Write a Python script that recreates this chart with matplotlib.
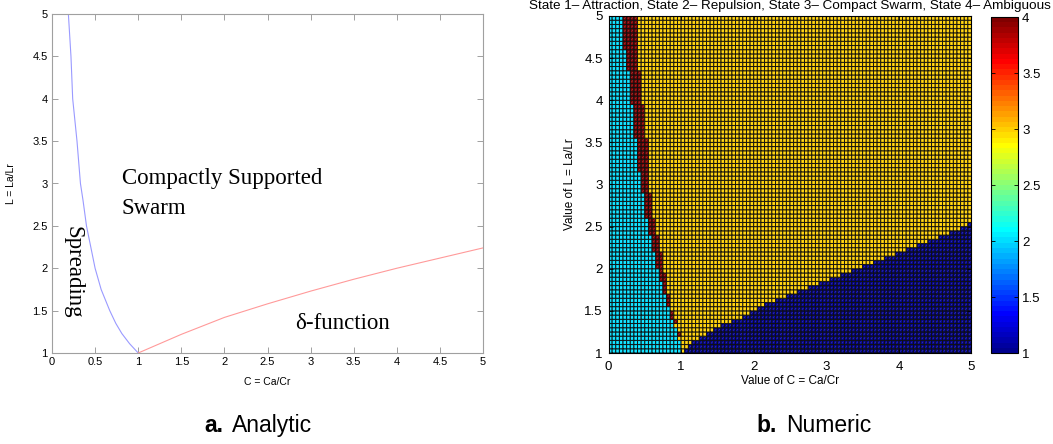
import numpy as np
import matplotlib
matplotlib.use("Agg")
import matplotlib.pyplot as plt
from matplotlib.colors import ListedColormap
from matplotlib.collections import LineCollection

plt.rcParams["font.family"] = ["Liberation Sans", "DejaVu Sans"]

W, H = 1053, 444

## analytic boundaries
spread_C = [0.19, 0.22, 0.24, 0.29, 0.33, 0.36, 0.40, 0.45, 0.50, 0.57, 0.67, 0.74, 0.81, 0.90, 1.00]
spread_L = [5.00, 4.50, 4.00, 3.50, 3.00, 2.80, 2.50, 2.25, 2.00, 1.75, 1.50, 1.35, 1.23, 1.11, 1.00]
delta_C = [1.0, 1.5, 2.0, 2.5, 3.0, 3.5, 4.0, 4.5, 5.0]
delta_L = [1.00, 1.22, 1.42, 1.58, 1.73, 1.87, 2.00, 2.12, 2.24]

## numeric grid (panel b): per row (bottom L=1 -> top L=5)
c_values = np.linspace(0, 5, 101)
l_values = np.linspace(1, 5, 81)
# number of "repulsion" (state 2) cells from the left of each row
cyan_cols = [20, 20, 20, 19, 19, 19, 18, 18, 17, 17, 17, 16, 16, 16, 15, 15,
             15, 14, 14, 14, 13, 13, 13, 13, 12, 12, 12, 12, 11, 11, 11, 11,
             10, 10, 10, 10, 10, 10, 9, 9, 9, 9, 9, 8, 8, 8, 8, 8,
             8, 8, 8, 7, 7, 7, 7, 7, 7, 7, 7, 6, 6, 6, 6, 6,
             6, 6, 6, 5, 5, 5, 5, 5, 4, 4, 4, 4, 4, 4, 4, 4]
# width of the "ambiguous" (state 4) strip after it
red_cols = [0, 0, 0, 0, 1, 0, 0, 1, 1, 1, 0, 1, 1, 1, 1, 1,
            1, 2, 2, 1, 2, 2, 2, 2, 2, 2, 2, 2, 2, 2, 2, 2,
            2, 2, 2, 2, 2, 2, 2, 2, 2, 2, 2, 3, 3, 3, 3, 3,
            3, 3, 3, 3, 3, 3, 3, 3, 3, 3, 3, 3, 3, 3, 3, 3,
            3, 3, 3, 3, 3, 3, 3, 3, 4, 4, 4, 4, 4, 4, 4, 4]
# first column of "attraction" (state 1) cells, 100 = none
blue_start = [21, 22, 23, 25, 27, 29, 31, 34, 37, 39, 41, 43, 46, 49, 52, 55,
              58, 61, 64, 67, 70, 73, 76, 79, 82, 85, 88, 91, 94, 97, 99] + [100] * 49

n_rows, n_cols = len(l_values) - 1, len(c_values) - 1
state = np.full((n_rows, n_cols), 3.0)
for i in range(n_rows):
    state[i, :cyan_cols[i]] = 2
    state[i, cyan_cols[i]:cyan_cols[i] + red_cols[i]] = 4
    state[i, blue_start[i]:] = 1


def matlab_jet(m=64):
    n = int(np.ceil(m / 4))
    u = np.concatenate([np.arange(1, n + 1) / n, np.ones(n - 1), np.arange(n, 0, -1) / n])
    g = int(np.ceil(n / 2)) - (m % 4 == 1) + np.arange(1, len(u) + 1)
    r = g + n
    b = g - n
    J = np.zeros((m, 3))
    for col, idx in enumerate([r, g, b]):
        ok = (idx >= 1) & (idx <= m)
        J[idx[ok] - 1, col] = u[ok]
    return ListedColormap(J)


fig = plt.figure(figsize=(W / 100, H / 100), dpi=100)

## panel a
ax1 = fig.add_axes([52 / W, 91 / H, 431 / W, 339 / H])
ax1.plot(spread_C, spread_L, color="#9a9aff", lw=0.8)
ax1.plot(delta_C, delta_L, color="#ff9a9a", lw=0.8)
ax1.set_xlim(0, 5)
ax1.set_ylim(1, 5)
xt = np.arange(0, 5.01, 0.5)
yt = np.arange(1, 5.01, 0.5)
ax1.set_xticks(xt)
ax1.set_xticklabels(["%g" % v for v in xt])
ax1.set_yticks(yt)
ax1.set_yticklabels(["%g" % v for v in yt])
ax1.tick_params(direction="in", top=True, right=True, length=4, width=0.6,
                color="#909090", labelsize=8, pad=3)
for s in ax1.spines.values():
    s.set_color("#a0a0a0")
    s.set_linewidth(0.8)
ax1.set_xlabel("C = Ca/Cr", fontsize=7.5, labelpad=7)
ax1.set_ylabel("L = La/Lr", fontsize=7.5, labelpad=12)

serif = ["Liberation Serif", "DejaVu Serif"]
ax1.text(0.81, 2.99, "Compactly Supported", family=serif, fontsize=16.5, va="baseline")
ax1.text(0.81, 2.64, "Swarm", family=serif, fontsize=16.5, va="baseline")
ax1.text(0.245, 1.95, "Spreading", family=serif, fontsize=16.5, rotation=-90,
         va="center", ha="center")
ax1.text(2.82, 1.28, "\u03b4-function", family=serif, fontsize=16.5, va="baseline")

## panel b
ax2 = fig.add_axes([608.5 / W, 91 / H, 363 / W, 337 / H])
mesh = ax2.pcolormesh(c_values, l_values, state, cmap=matlab_jet(64), vmin=1, vmax=4,
                      edgecolors="#101010", linewidth=0.65, antialiased=True, snap=False)
# faint diagonal inside every cell, like the rendered patches in the original
cc, ll = np.meshgrid(c_values[:-1], l_values[:-1])
dc, dl = c_values[1] - c_values[0], l_values[1] - l_values[0]
segs = np.stack([np.stack([cc + 0.3 * dc, ll + 0.3 * dl], -1),
                 np.stack([cc + 0.7 * dc, ll + 0.7 * dl], -1)], axis=2).reshape(-1, 2, 2)
ax2.add_collection(LineCollection(segs, colors="white", linewidths=0.5, alpha=0.25))
ax2.set_xlim(0, 5)
ax2.set_ylim(1, 5)
ax2.set_xticks(range(0, 6))
ax2.set_yticks(yt)
ax2.set_yticklabels(["%g" % v for v in yt])
ax2.tick_params(direction="in", top=True, right=True, length=3, width=0.6,
                labelsize=9.5)
ax2.tick_params(axis="x", pad=6)
ax2.tick_params(axis="y", pad=4)
ax2.set_xlabel("Value of C = Ca/Cr", fontsize=8.5, labelpad=1)
ax2.set_ylabel("Value of L = La/Lr", fontsize=8.5, labelpad=6)
fig.text(789.5 / W, 1 - 8.5 / H,
         "State 1\u2013 Attraction, State 2\u2013 Repulsion, State 3\u2013 Compact Swarm, State 4\u2013 Ambiguous",
         ha="center", va="baseline", fontsize=9.7)

cax = fig.add_axes([991 / W, 91 / H, 27 / W, 336 / H])
cb = fig.colorbar(mesh, cax=cax, ticks=yt)
cb.ax.set_yticklabels(["%g" % v for v in yt])
cb.ax.yaxis.set_ticks_position("both")
cb.ax.tick_params(direction="in", length=3, width=0.6, labelsize=9.5, pad=3,
                  labelleft=False, labelright=True)
cb.outline.set_linewidth(0.8)

## captions: bold letter + plain name
fig.canvas.draw()
renderer = fig.canvas.get_renderer()
for xc, tag, name in [(258, "a.", "Analytic"), (814, "b.", "Numeric")]:
    yc = 1 - 425 / H
    a = fig.text(0, yc, tag, ha="left", va="center", fontsize=16.5, weight="bold")
    b = fig.text(0, yc, name, ha="left", va="center", fontsize=16.5)
    wa = a.get_window_extent(renderer).width
    wb = b.get_window_extent(renderer).width
    gap = 9
    x0 = xc - (wa + gap + wb) / 2
    a.set_x(x0 / W)
    b.set_x((x0 + wa + gap) / W)

fig.savefig("out.png", dpi=100)
